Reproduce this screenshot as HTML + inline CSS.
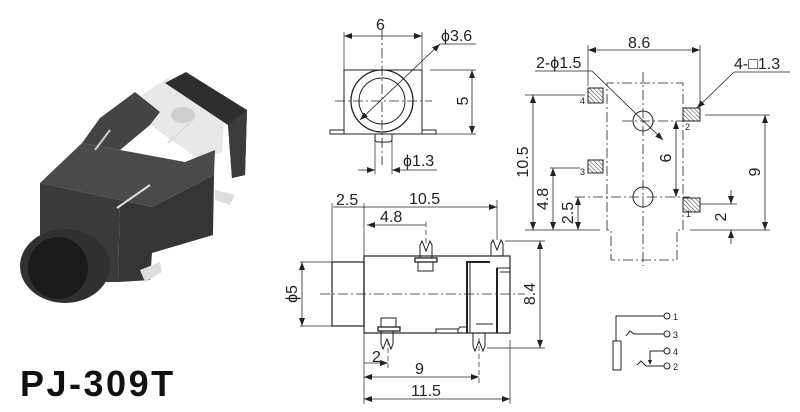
<!DOCTYPE html>
<html><head><meta charset="utf-8"><style>
html,body{margin:0;padding:0;background:#fff;width:800px;height:412px;overflow:hidden}
svg{display:block}
text{font-family:"Liberation Sans",sans-serif;fill:#222}
</style></head><body>
<svg width="800" height="412" viewBox="0 0 800 412" xmlns="http://www.w3.org/2000/svg">
<defs>
<marker id="a" markerWidth="8" markerHeight="6" refX="8" refY="3" orient="auto-start-reverse" markerUnits="userSpaceOnUse"><path d="M0,0 L8,3 L0,6 z" fill="#222"/></marker>
<pattern id="h" width="3" height="3" patternUnits="userSpaceOnUse" patternTransform="rotate(-45)"><line x1="0" y1="0" x2="0" y2="3" stroke="#333" stroke-width="1"/></pattern>
</defs>

<!-- Photo -->
<g>
<polygon points="140,96 168,78 225,112 222,152 200,160 150,125" fill="#e8e8e8"/>
<polygon points="165,83 186,72 247,110 245,175 232,178 228,125" fill="#2e2e2e"/>
<polygon points="228,125 247,110 245,175 232,178" fill="#3c3c3c"/>
<ellipse cx="183" cy="115" rx="12" ry="8" fill="#cfcfcf"/>
<polygon points="100,118 135,92 160,112 150,125 120,150 82,143" fill="#444"/>
<polygon points="40,183 82,143 120,150 185,162 215,150 214,175 152,207 120,200" fill="#4a4a4a"/>
<polygon points="120,200 152,207 214,175 213,235 152,253 150,280 118,282" fill="#353535"/>
<polygon points="40,183 120,200 118,282 40,282" fill="#3a3a3a"/>
<ellipse cx="65" cy="266" rx="45" ry="37" fill="#303030"/>
<ellipse cx="58" cy="268" rx="30" ry="31" fill="#1a1a1a"/>
<polygon points="140,270 160,262 162,272 145,282" fill="#ddd"/>
<polygon points="215,190 235,195 230,205 215,200" fill="#ddd"/>
<line x1="168" y1="143" x2="195" y2="118" stroke="#ddd" stroke-width="2"/>
<line x1="117" y1="208" x2="150" y2="185" stroke="#ddd" stroke-width="2"/>
<line x1="95" y1="150" x2="110" y2="130" stroke="#ccc" stroke-width="2"/>
</g>
<text x="20" y="396" font-size="36" font-weight="bold" letter-spacing="2.5" style="fill:#111">PJ-309T</text>

<g stroke="#222" stroke-width="1" fill="none">
<!-- Front view -->
<rect x="344" y="70" width="78" height="64"/>
<rect x="330" y="130" width="14" height="4"/>
<rect x="422" y="130" width="14" height="4"/>
<path d="M375,134 v5 q0,3 3,3 h11 q3,0 3,-3 v-5"/>
<circle cx="382" cy="101" r="31" stroke-width="1.3"/>
<circle cx="382" cy="101" r="23"/>
<line x1="335" y1="101" x2="432" y2="101" stroke-dasharray="10,3,2,3" stroke-width="0.8"/>
<line x1="382" y1="30" x2="382" y2="165" stroke-dasharray="10,3,2,3" stroke-width="0.8"/>
<line x1="344" y1="32" x2="344" y2="70" stroke-width="0.7"/>
<line x1="422" y1="32" x2="422" y2="70" stroke-width="0.7"/>
<line x1="344" y1="36" x2="422" y2="36" marker-start="url(#a)" marker-end="url(#a)" stroke-width="0.8"/>
<line x1="440" y1="44" x2="476" y2="44" stroke-width="0.8"/>
<line x1="440" y1="44" x2="360" y2="120" marker-start="url(#a)" marker-end="url(#a)" stroke-width="0.8"/>
<line x1="430" y1="70" x2="476" y2="70" stroke-width="0.7"/>
<line x1="436" y1="134" x2="476" y2="134" stroke-width="0.7"/>
<line x1="472" y1="70" x2="472" y2="134" marker-start="url(#a)" marker-end="url(#a)" stroke-width="0.8"/>
<line x1="375" y1="140" x2="375" y2="174" stroke-width="0.7"/>
<line x1="392" y1="140" x2="392" y2="174" stroke-width="0.7"/>
<line x1="358" y1="170" x2="375" y2="170" marker-end="url(#a)" stroke-width="0.8"/>
<line x1="437" y1="170" x2="392" y2="170" marker-end="url(#a)" stroke-width="0.8"/>

<!-- Side view -->
<rect x="364" y="256" width="146" height="77" stroke-width="1.2"/>
<rect x="332" y="262" width="32" height="64" stroke-width="1.2"/>
<path d="M467,333 V262 H490" stroke-width="2"/>
<line x1="470" y1="263" x2="470" y2="333"/>
<rect x="497" y="268" width="13" height="65" stroke-width="1"/>
<line x1="497" y1="268" x2="497" y2="333" stroke-width="2"/>
<line x1="500" y1="272" x2="510" y2="272"/>
<path d="M455,333 l5,-6 h7" stroke-width="1"/>
<rect x="436" y="329" width="22" height="4" fill="#fff"/>
<line x1="476" y1="324" x2="493" y2="324"/>
<!-- pins -->
<path d="M420,258 V245 l2,-4 l4,10 l4,-10 l2,4 V258"/>
<rect x="415" y="258" width="22" height="4" stroke-width="1.3"/>
<rect x="418" y="262" width="15" height="9"/>
<path d="M491,256 V244 l2,-4 l4,10 l4,-10 l2,4 V256"/>
<path d="M381,331 V344 l2,5 l4,-10 l4,10 l2,-5 V331"/>
<rect x="378" y="327" width="22" height="4" stroke-width="1.3"/>
<rect x="381" y="318" width="15" height="9"/>
<path d="M473,333 V346 l2,5 l4,-10 l4,10 l2,-5 V333"/>
<line x1="320" y1="294" x2="525" y2="294" stroke-dasharray="10,3,2,3" stroke-width="0.8"/>
<line x1="426" y1="222" x2="426" y2="244" stroke-dasharray="5,3" stroke-width="0.7"/>
<line x1="479" y1="338" x2="479" y2="385" stroke-dasharray="5,3" stroke-width="0.7"/>
<line x1="388" y1="340" x2="388" y2="368" stroke-dasharray="5,3" stroke-width="0.7"/>
<!-- side dims -->
<line x1="332" y1="203" x2="332" y2="262" stroke-width="0.7"/>
<line x1="364" y1="203" x2="364" y2="404" stroke-width="0.7"/>
<line x1="497" y1="200" x2="497" y2="240" stroke-width="0.7"/>
<line x1="333" y1="207" x2="364" y2="207" stroke-width="0.8"/>
<line x1="364" y1="207" x2="497" y2="207" marker-end="url(#a)" stroke-width="0.8"/>
<line x1="367" y1="225" x2="426" y2="225" marker-start="url(#a)" stroke-width="0.8"/>
<line x1="300" y1="262" x2="332" y2="262" stroke-width="0.7"/>
<line x1="300" y1="326" x2="332" y2="326" stroke-width="0.7"/>
<line x1="302" y1="262" x2="302" y2="326" marker-start="url(#a)" marker-end="url(#a)" stroke-width="0.8"/>
<line x1="505" y1="241" x2="545" y2="241" stroke-width="0.7"/>
<line x1="487" y1="348" x2="545" y2="348" stroke-width="0.7"/>
<line x1="540" y1="241" x2="540" y2="348" marker-start="url(#a)" marker-end="url(#a)" stroke-width="0.8"/>
<line x1="364" y1="363" x2="388" y2="363" marker-end="url(#a)" stroke-width="0.8"/>
<line x1="364" y1="377" x2="479" y2="377" marker-start="url(#a)" marker-end="url(#a)" stroke-width="0.8"/>
<line x1="510" y1="340" x2="510" y2="404" stroke-width="0.7"/>
<line x1="364" y1="399" x2="510" y2="399" marker-start="url(#a)" marker-end="url(#a)" stroke-width="0.8"/>

<!-- Footprint -->
<g stroke-dasharray="10,3,2,3" stroke-width="0.8">
<path d="M607,230 V83 H683 V230 H677 V260 H611 V230 Z"/>
<line x1="643" y1="72" x2="643" y2="266"/>
<line x1="622" y1="121" x2="690" y2="121"/>
<line x1="575" y1="197" x2="690" y2="197"/>
</g>
<circle cx="643" cy="121" r="10"/>
<circle cx="643" cy="197" r="10"/>
<rect x="588" y="88" width="15" height="15" fill="url(#h)"/>
<rect x="588" y="160" width="15" height="13" fill="url(#h)"/>
<rect x="683" y="108" width="17" height="13" fill="url(#h)"/>
<rect x="683" y="198" width="17" height="14" fill="url(#h)"/>
<line x1="588" y1="45" x2="588" y2="86" stroke-width="0.7"/>
<line x1="700" y1="45" x2="700" y2="106" stroke-width="0.7"/>
<line x1="588" y1="50" x2="700" y2="50" marker-start="url(#a)" marker-end="url(#a)" stroke-width="0.8"/>
<line x1="535" y1="71" x2="592" y2="71" stroke-width="0.8"/>
<line x1="592" y1="71" x2="663" y2="140" marker-end="url(#a)" stroke-width="0.8"/>
<line x1="734" y1="72" x2="790" y2="72" stroke-width="0.8"/>
<line x1="734" y1="72" x2="697" y2="108" marker-end="url(#a)" stroke-width="0.8"/>
<line x1="525" y1="95" x2="585" y2="95" stroke-width="0.7"/>
<line x1="525" y1="230" x2="600" y2="230" stroke-width="0.7"/>
<line x1="533" y1="95" x2="533" y2="230" marker-start="url(#a)" marker-end="url(#a)" stroke-width="0.8"/>
<line x1="550" y1="168" x2="580" y2="168" stroke-width="0.7"/>
<line x1="553" y1="168" x2="553" y2="230" marker-start="url(#a)" marker-end="url(#a)" stroke-width="0.8"/>
<line x1="578" y1="197" x2="578" y2="230" marker-start="url(#a)" marker-end="url(#a)" stroke-width="0.8"/>
<line x1="676" y1="121" x2="676" y2="197" marker-start="url(#a)" marker-end="url(#a)" stroke-width="0.8"/>
<line x1="705" y1="115" x2="770" y2="115" stroke-width="0.7"/>
<line x1="690" y1="230" x2="770" y2="230" stroke-width="0.7"/>
<line x1="765" y1="115" x2="765" y2="230" marker-start="url(#a)" marker-end="url(#a)" stroke-width="0.8"/>
<line x1="700" y1="204" x2="737" y2="204" stroke-width="0.7"/>
<line x1="731" y1="190" x2="731" y2="204" marker-end="url(#a)" stroke-width="0.8"/>
<line x1="731" y1="244" x2="731" y2="230" marker-end="url(#a)" stroke-width="0.8"/>

<!-- Schematic -->
<polyline points="616,341 616,316 664,316"/>
<circle cx="667" cy="316" r="3"/>
<rect x="613" y="341" width="8" height="29"/>
<polyline points="626,336 630,331 634,334 664,334"/>
<circle cx="667" cy="334" r="3"/>
<polyline points="664,351 650,351 650,363"/>
<circle cx="667" cy="351" r="3"/>
<polyline points="637,365 641,361 646,366 664,366"/>
<circle cx="667" cy="366" r="3"/>
</g>
<path d="M648,360 L650,365 L652,360 z" fill="#222"/>

<!-- labels -->
<g font-size="16">
<text x="376" y="30">6</text>
<text x="441" y="41">ϕ3.6</text>
<text x="403" y="166">ϕ1.3</text>
<text x="336" y="205">2.5</text>
<text x="409" y="204">10.5</text>
<text x="380" y="222">4.8</text>
<text x="372" y="362">2</text>
<text x="415" y="374">9</text>
<text x="411" y="396">11.5</text>
<text x="628" y="48">8.6</text>
<text x="536" y="68">2-ϕ1.5</text>
<text x="734" y="69">4-□1.3</text>
<text transform="translate(468,101) rotate(-90)" text-anchor="middle">5</text>
<text transform="translate(297,294) rotate(-90)" text-anchor="middle">ϕ5</text>
<text transform="translate(535,294) rotate(-90)" text-anchor="middle">8.4</text>
<text transform="translate(528,162) rotate(-90)" text-anchor="middle">10.5</text>
<text transform="translate(548,199) rotate(-90)" text-anchor="middle">4.8</text>
<text transform="translate(573,213) rotate(-90)" text-anchor="middle">2.5</text>
<text transform="translate(671,158) rotate(-90)" text-anchor="middle">6</text>
<text transform="translate(760,172) rotate(-90)" text-anchor="middle">9</text>
<text transform="translate(726,217) rotate(-90)" text-anchor="middle">2</text>
</g>
<g font-size="9">
<text x="580" y="104">4</text>
<text x="685" y="130">2</text>
<text x="580" y="175">3</text>
<text x="686" y="217">1</text>
<text x="673" y="320">1</text>
<text x="673" y="338">3</text>
<text x="673" y="355">4</text>
<text x="673" y="370">2</text>
</g>
</svg>
</body></html>
